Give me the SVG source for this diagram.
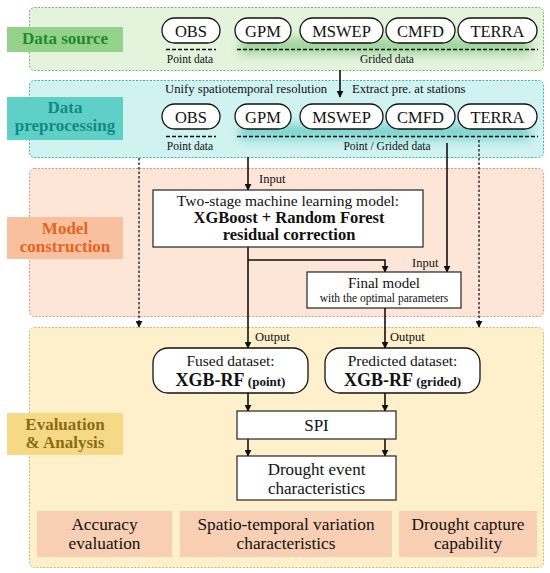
<svg xmlns="http://www.w3.org/2000/svg" width="550" height="573" viewBox="0 0 550 573" font-family="'Liberation Serif', 'DejaVu Serif', serif">
<style>
text{font-family:'Liberation Serif','DejaVu Serif',serif;fill:#111}
.pill{fill:#fff;stroke:#111;stroke-width:1.3}
.box{fill:#fff;stroke:#222;stroke-width:1.2}
.pt{font-size:16.5px;text-anchor:middle}
.sm{font-size:11.5px;text-anchor:middle}
.lab{font-size:17px;font-weight:bold;text-anchor:middle}
.ln{stroke:#111;stroke-width:1.6;fill:none}
.dot{stroke:#111;stroke-width:1.3;fill:none;stroke-dasharray:2.5 2}
.dash{stroke:#111;stroke-width:1.5;stroke-dasharray:4 2}
.bt{font-size:17.3px;text-anchor:middle}
.bb{fill:#f8cfb2}
</style>
<defs>
<marker id="ah" viewBox="0 0 10 10" refX="9" refY="5" markerWidth="7" markerHeight="7" markerUnits="userSpaceOnUse" orient="auto"><path d="M0,0 L10,5 L0,10 z" fill="#111"/></marker>
<filter id="blur" x="-20%" y="-50%" width="140%" height="200%"><feGaussianBlur stdDeviation="5"/></filter>
</defs>
<rect width="550" height="573" fill="#fff"/>

<g id="panel-source">
<rect x="29.5" y="7.5" width="514" height="63" rx="5" fill="#e3f3dc" stroke="#6fb86a" stroke-dasharray="2 1.5"/>
<rect x="240" y="38" width="290" height="16" fill="#4caf50" opacity="0.45" filter="url(#blur)"/>
<rect x="7" y="27" width="116" height="25" fill="#94d28c"/>
<text class="lab" x="65" y="44" style="fill:#1e8a2e">Data source</text>
</g>
<g id="src-obs"><rect class="pill" x="162" y="18" width="58" height="25" rx="12.5"/><text class="pt" x="191" y="36.5">OBS</text></g>
<g id="src-gpm"><rect class="pill" x="235" y="18" width="56" height="25" rx="12.5"/><text class="pt" x="263" y="36.5">GPM</text></g>
<g id="src-mswep"><rect class="pill" x="300" y="18" width="83" height="25" rx="12.5"/><text class="pt" x="341.5" y="36.5">MSWEP</text></g>
<g id="src-cmfd"><rect class="pill" x="386" y="18" width="69" height="25" rx="12.5"/><text class="pt" x="420.5" y="36.5">CMFD</text></g>
<g id="src-terra"><rect class="pill" x="458" y="18" width="79" height="25" rx="12.5"/><text class="pt" x="497.5" y="36.5">TERRA</text></g>
<g id="src-labels">
<line class="dash" x1="166" y1="49.5" x2="216" y2="49.5"/>
<line class="dash" x1="237" y1="49.5" x2="538" y2="49.5"/>
<text class="sm" x="190" y="63">Point data</text>
<text class="sm" x="387" y="63">Grided data</text>
</g>

<g id="panel-pre">
<rect x="29.5" y="80.5" width="514" height="77" rx="5" fill="#d0f2f0" stroke="#35b5ad" stroke-dasharray="2 1.5"/>
<rect x="240" y="124" width="290" height="16" fill="#1fb3aa" opacity="0.45" filter="url(#blur)"/>
<rect x="7" y="97" width="116" height="43" fill="#5fd0c8"/>
<text class="lab" x="65" y="112.5" style="fill:#128a80">Data</text>
<text class="lab" x="65" y="131" style="fill:#128a80">preprocessing</text>
<text x="165" y="93" style="font-size:12.7px">Unify spatiotemporal resolution</text>
<text x="352" y="93" style="font-size:12.7px">Extract pre. at stations</text>
</g>
<g id="pre-obs"><rect class="pill" x="162" y="104" width="58" height="25" rx="12.5"/><text class="pt" x="191" y="122.5">OBS</text></g>
<g id="pre-gpm"><rect class="pill" x="235" y="104" width="56" height="25" rx="12.5"/><text class="pt" x="263" y="122.5">GPM</text></g>
<g id="pre-mswep"><rect class="pill" x="300" y="104" width="83" height="25" rx="12.5"/><text class="pt" x="341.5" y="122.5">MSWEP</text></g>
<g id="pre-cmfd"><rect class="pill" x="386" y="104" width="69" height="25" rx="12.5"/><text class="pt" x="420.5" y="122.5">CMFD</text></g>
<g id="pre-terra"><rect class="pill" x="458" y="104" width="79" height="25" rx="12.5"/><text class="pt" x="497.5" y="122.5">TERRA</text></g>
<g id="pre-labels">
<line class="dash" x1="166" y1="136.5" x2="216" y2="136.5"/>
<line class="dash" x1="237" y1="136.5" x2="538" y2="136.5"/>
<text class="sm" x="190" y="150">Point data</text>
<text class="sm" x="387" y="150">Point / Grided data</text>
</g>

<g id="panel-model">
<rect x="29.5" y="168.5" width="514" height="148" rx="5" fill="#fde5d8" stroke="#e8907a" stroke-dasharray="2 1.5"/>
<rect x="7" y="217" width="116" height="42" fill="#f9c0a0"/>
<text class="lab" x="65" y="233.5" style="fill:#e2661c">Model</text>
<text class="lab" x="65" y="252" style="fill:#e2661c">construction</text>
</g>

<g id="panel-eval">
<rect x="29.5" y="327.5" width="514" height="240" rx="5" fill="#fdf0ca" stroke="#c4bd6a" stroke-dasharray="2 1.5"/>
<rect x="7" y="413" width="116" height="42" fill="#f6d987"/>
<text class="lab" x="65" y="429.5" style="fill:#8c6c12">Evaluation</text>
<text class="lab" x="65" y="448" style="fill:#8c6c12">&amp; Analysis</text>
</g>

<g id="connectors">
<line class="ln" x1="340" y1="70" x2="340" y2="97" marker-end="url(#ah)"/>
<line class="ln" x1="248" y1="157" x2="248" y2="190" marker-end="url(#ah)"/>
<line class="dot" x1="139" y1="158" x2="139" y2="327" marker-end="url(#ah)"/>
<line class="dot" x1="479" y1="140" x2="479" y2="327" marker-end="url(#ah)"/>
<line class="ln" x1="447" y1="143" x2="447" y2="272" marker-end="url(#ah)"/>
<line class="ln" x1="248" y1="247" x2="248" y2="348" marker-end="url(#ah)"/>
<polyline class="ln" points="248,260 385,260 385,272" marker-end="url(#ah)"/>
<line class="ln" x1="385" y1="308" x2="385" y2="348" marker-end="url(#ah)"/>
<line class="ln" x1="248" y1="393" x2="248" y2="411" marker-end="url(#ah)"/>
<line class="ln" x1="385" y1="393" x2="385" y2="411" marker-end="url(#ah)"/>
<line class="ln" x1="248" y1="439" x2="248" y2="456" marker-end="url(#ah)"/>
<line class="ln" x1="385" y1="439" x2="385" y2="456" marker-end="url(#ah)"/>
<text x="259" y="183" style="font-size:12.5px">Input</text>
<text x="412" y="267" style="font-size:12.5px">Input</text>
<text x="255" y="341" style="font-size:12.5px">Output</text>
<text x="390" y="341" style="font-size:12.5px">Output</text>
</g>

<g id="model">
<rect class="box" x="153" y="190" width="270" height="57"/>
<text x="288" y="205.5" style="font-size:15.5px;text-anchor:middle">Two-stage machine learning model:</text>
<text x="289" y="222.5" style="font-size:16.5px;font-weight:bold;text-anchor:middle">XGBoost + Random Forest</text>
<text x="289" y="240" style="font-size:16.5px;font-weight:bold;text-anchor:middle">residual correction</text>
</g>
<g id="final-model">
<rect class="box" x="307" y="272" width="154" height="36"/>
<text x="384" y="288" style="font-size:15px;text-anchor:middle">Final model</text>
<text x="384" y="302" style="font-size:11.5px;text-anchor:middle">with the optimal parameters</text>
</g>
<g id="fused">
<rect class="pill" x="153" y="348" width="155" height="45" rx="15"/>
<text x="230.5" y="366" style="font-size:15.5px;text-anchor:middle">Fused dataset:</text>
<text x="230.5" y="386" style="text-anchor:middle;font-weight:bold"><tspan style="font-size:18px">XGB-RF</tspan><tspan style="font-size:13px"> (point)</tspan></text>
</g>
<g id="predicted">
<rect class="pill" x="325" y="348" width="155" height="45" rx="15"/>
<text x="402.5" y="366" style="font-size:15.5px;text-anchor:middle">Predicted dataset:</text>
<text x="402.5" y="386" style="text-anchor:middle;font-weight:bold"><tspan style="font-size:18px">XGB-RF</tspan><tspan style="font-size:13px"> (grided)</tspan></text>
</g>
<g id="spi">
<rect class="box" x="237" y="411" width="159" height="28"/>
<text x="316.5" y="431" style="font-size:17px;text-anchor:middle">SPI</text>
</g>
<g id="drought">
<rect class="box" x="237" y="456" width="159" height="44"/>
<text x="316.5" y="475" style="font-size:17px;text-anchor:middle">Drought event</text>
<text x="316.5" y="494" style="font-size:17px;text-anchor:middle">characteristics</text>
</g>
<g id="accuracy">
<rect class="bb" x="37" y="511" width="135" height="46"/>
<text class="bt" x="104.5" y="530">Accuracy</text>
<text class="bt" x="104.5" y="549">evaluation</text>
</g>
<g id="spatio">
<rect class="bb" x="180" y="511" width="212" height="46"/>
<text class="bt" x="286" y="530">Spatio-temporal variation</text>
<text class="bt" x="286" y="549">characteristics</text>
</g>
<g id="capture">
<rect class="bb" x="399" y="511" width="138" height="46"/>
<text class="bt" x="468" y="530">Drought capture</text>
<text class="bt" x="468" y="549">capability</text>
</g>
</svg>
